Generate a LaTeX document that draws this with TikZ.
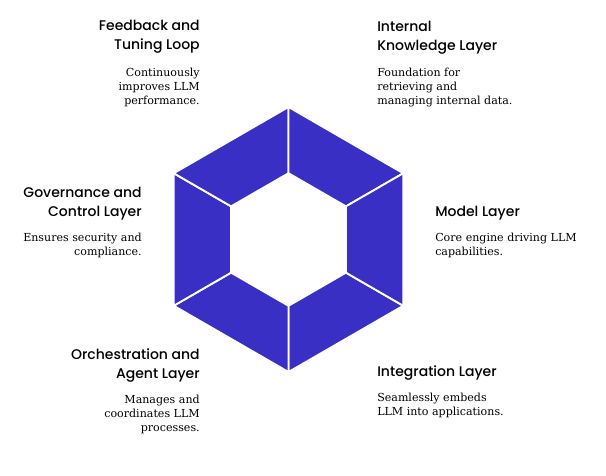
\documentclass[tikz,border=0pt]{standalone}
\usepackage{fontspec}
\setmainfont{DejaVu Serif}
\newfontfamily\headfont{Poppins}[UprightFont=* Medium]
\definecolor{hexblue}{RGB}{58,47,196}
\tikzset{
  head/.style={font=\headfont\fontsize{10.5}{14.25}\selectfont, inner sep=0pt},
  desc/.style={font=\fontsize{8.3}{10.5}\selectfont, inner sep=0pt},
}
\begin{document}
\begin{tikzpicture}[x=0.75pt,y=-0.75pt]
\useasboundingbox (0,0) rectangle (606,475);
% hexagon in six parts
\begin{scope}[shift={(288.5,239.5)}]
\foreach \a in {30,90,...,330}
  \filldraw[hexblue, draw=white, line width=1.4pt, line join=round]
    (\a:132.5) -- (\a+60:132.5) -- (\a+60:66.3) -- (\a:66.3) -- cycle;
\end{scope}
% left side (base = last line)
\node[head, anchor=base east, align=right] (feedback) at (200,49) {Feedback and\\Tuning Loop};
\node[desc, anchor=base east, align=right] (feedbackTxt) at (200,104) {Continuously\\improves LLM\\performance.};
\node[head, anchor=base east, align=right] (governance) at (142,216.7) {Governance and\\Control Layer};
\node[desc, anchor=base east, align=right] (governanceTxt) at (142,255) {Ensures security and\\compliance.};
\node[head, anchor=base east, align=right] (orchestration) at (200,378) {Orchestration and\\Agent Layer};
\node[desc, anchor=base east, align=right] (orchestrationTxt) at (200,431.7) {Manages and\\coordinates LLM\\processes.};
% right side
\node[head, anchor=base west, align=left] (knowledge) at (377,50) {Internal\\Knowledge Layer};
\node[desc, anchor=base west, align=left] (knowledgeTxt) at (377,104) {Foundation for\\retrieving and\\managing internal data.};
\node[head, anchor=base west, align=left] (model) at (435,216.7) {Model Layer};
\node[desc, anchor=base west, align=left] (modelTxt) at (435,255) {Core engine driving LLM\\capabilities.};
\node[head, anchor=base west, align=left] (integration) at (377,376.7) {Integration Layer};
\node[desc, anchor=base west, align=left] (integrationTxt) at (377,415) {Seamlessly embeds\\LLM into applications.};
\end{tikzpicture}
\end{document}
